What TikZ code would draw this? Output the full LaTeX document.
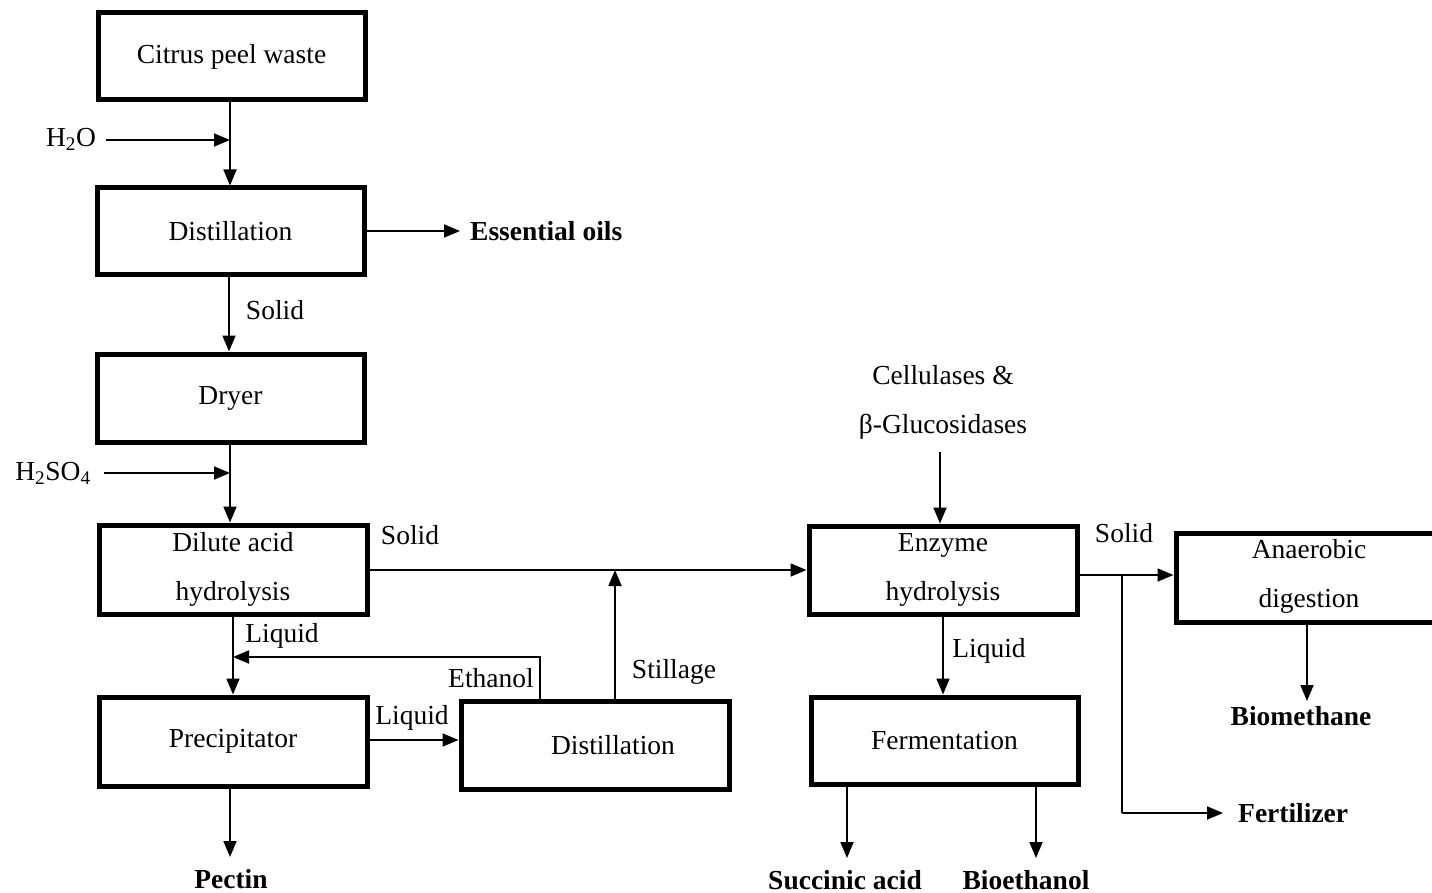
\documentclass[tikz,border=0pt]{standalone}
\usepackage{fontspec}
\setmainfont{Liberation Serif}
\usetikzlibrary{arrows.meta}
\begin{document}
\begin{tikzpicture}[x=1pt,y=-1pt,
  txt/.style={font=\fontsize{27.5}{49}\selectfont, inner sep=2pt, align=center},
  prod/.style={txt, font=\fontsize{27.5}{33}\selectfont\bfseries},
  unit/.style={draw, line width=5pt, rectangle, minimum width=267pt, minimum height=88pt, inner sep=0pt, txt},
  flow/.style={line width=1.8pt, -{Triangle[length=16pt,width=13pt]}},
  plain/.style={line width=1.8pt}]
\useasboundingbox (0,0) rectangle (1432,893);
\clip (0,0) rectangle (1432,893);

% process units
\node[unit, minimum height=87pt] (cpw) at (231.5,56.5) {Citrus peel waste};
\node[unit, minimum height=87pt] (dist1) at (230.5,231.5) {Distillation};
\node[unit] (dryer) at (230.5,398) {Dryer};
\node[unit, minimum width=268pt, minimum height=89pt] (dah) at (233,569.5) {Dilute acid\\hydrolysis};
\node[unit, minimum width=268pt, minimum height=89pt] (precip) at (233,741.5) {Precipitator};
\node[unit, minimum width=268pt] (dist2) at (595,745) {};
\node[txt] (dist2t) at (613,745) {Distillation};
\node[unit, minimum width=268pt] (enz) at (943,570) {Enzyme\\hydrolysis};
\node[unit, minimum height=87pt] (ferm) at (944.5,740.5) {Fermentation};
\node[unit, minimum width=269pt, minimum height=89pt] (anaer) at (1310.5,577.5) {};
\node[txt] (anaert) at (1309,576) {Anaerobic\\digestion};

% feeds
\node[txt] (h2o) at (71,139) {H\textsubscript{2}O};
\node[txt] (h2so4) at (53,473) {H\textsubscript{2}SO\textsubscript{4}};
\node[txt] (enzymes) at (943,402) {Cellulases \&\\β-Glucosidases};

% products
\node[prod, anchor=west] (oils) at (468,231) {Essential oils};
\node[prod] (pectin) at (231,879) {Pectin};
\node[prod] (succ) at (845,880) {Succinic acid};
\node[prod] (bioeth) at (1026,880) {Bioethanol};
\node[prod, anchor=west] (fert) at (1236,813) {Fertilizer};
\node[prod] (biometh) at (1301,716) {Biomethane};

% stream labels
\node[txt] (lsolid1) at (275,310) {Solid};
\node[txt] (lsolid2) at (410,535) {Solid};
\node[txt] (lliq1) at (282,636) {Liquid};
\node[txt] (leth) at (491,678) {Ethanol};
\node[txt] (lliq2) at (412,718) {Liquid};
\node[txt] (lstill) at (674,672) {Stillage};
\node[txt] (lsolid3) at (1124,533) {Solid};
\node[txt] (lliq3) at (989,651) {Liquid};

% junction points and line ends
\coordinate (jw) at (230,140);
\coordinate (jwin) at (106,140);
\coordinate (ja) at (230,473);
\coordinate (jain) at (104,473);
\coordinate (sl) at (0,570);
\coordinate (st) at (615,570);
\coordinate (et) at (540,657);
\coordinate (eb) at (233,657);
\coordinate (lq) at (0,740);
\coordinate (js) at (1122,575);
\coordinate (jf) at (1122,813);
\coordinate (oilsin) at (460,231);
\coordinate (pectip) at (230,857);
\coordinate (succtip) at (847,858);
\coordinate (biotip) at (1036,858);
\coordinate (methtip) at (1307,701);
\coordinate (fertip) at (1223,813);
\coordinate (enzin) at (940,452);

% main line
\draw[flow] (cpw.south -| jw) -- (dist1.north -| jw);
\draw[flow] (jwin) -- (jw);
\draw[flow] (dist1.east |- oilsin) -- (oilsin);
\draw[flow] (dist1.south -| 229,0) -- (dryer.north -| 229,0);
\draw[flow] (dryer.south -| ja) -- (dah.north -| ja);
\draw[flow] (jain) -- (ja);
\draw[flow] (dah.east |- sl) -- (enz.west |- sl);
\draw[flow] (dah.south) -- (precip.north);
\draw[flow] (precip.east |- lq) -- (dist2.west |- lq);
\draw[flow] (precip.south -| pectip) -- (pectip);

% recycle streams from the second distillation
\draw[flow] (dist2.north -| st) -- (st);
\draw[flow] (dist2.north -| et) -- (et) -- (eb);

% enzymatic route
\draw[flow] (enzin) -- (enz.north -| enzin);
\draw[flow] (enz.south) -- (ferm.north -| enz.south);
\draw[flow] (enz.east |- js) -- (anaer.west |- js);
\draw[plain] (js) -- (jf);
\draw[flow] (jf) -- (fertip);
\draw[flow] (anaer.south -| methtip) -- (methtip);
\draw[flow] (ferm.south -| succtip) -- (succtip);
\draw[flow] (ferm.south -| biotip) -- (biotip);
\end{tikzpicture}
\end{document}
